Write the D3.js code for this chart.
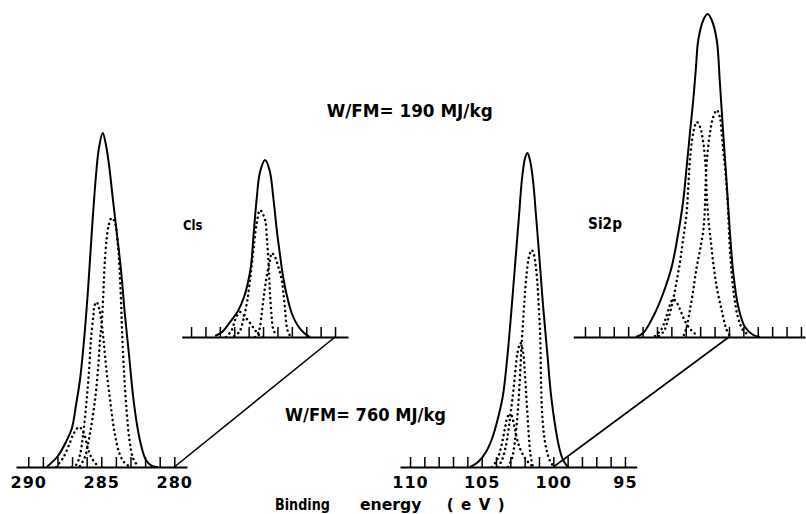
<!DOCTYPE html>
<html>
<head>
<meta charset="utf-8">
<script src="https://cdn.jsdelivr.net/npm/d3@7"></script>
<style>
  body { margin: 0; background: #fff; }
  svg { display: block; }
  text { font-family: "DejaVu Sans", sans-serif; fill: #000; }
</style>
</head>
<body>
<svg id="chart" width="806" height="514"></svg>
<script>
// ---- data: [binding energy (eV), intensity (a.u.)] ----

// C1s, W/FM = 760 MJ/kg (lower)
const c1sLowEnvelope = [[288.74,0],[287.97,11],[287.42,25],[287.01,39],[286.73,62],[286.46,87],[286.18,127],[285.91,177],[285.64,237],[285.36,292],[285.16,319],[284.90,334],[284.68,322],[284.47,302],[284.20,267],[283.92,232],[283.65,197],[283.38,152],[283.10,112],[282.83,72],[282.55,42],[282.28,22],[281.94,7],[281.53,1],[281.12,0]];
const c1sLowPeakA = [[286.46,1],[286.12,10],[285.77,34],[285.43,67],[285.21,100],[285.09,127],[284.97,144],[284.85,177],[284.78,200],[284.64,227],[284.47,243],[284.29,249],[284.10,246],[283.86,222],[283.75,197],[283.65,167],[283.58,137],[283.45,97],[283.27,57],[283.07,27],[282.83,9],[282.49,1]];
const c1sLowPeakB = [[287.01,0],[286.73,2],[286.46,12],[286.23,34],[286.00,67],[285.82,100],[285.71,127],[285.55,150],[285.47,161],[285.32,165],[285.16,159],[285.02,149],[284.88,132],[284.75,112],[284.61,92],[284.44,72],[284.27,52],[284.06,32],[283.79,15],[283.45,5],[283.03,0]];
const c1sLowPeakC = [[288.10,0],[287.62,9],[287.21,22],[286.87,34],[286.51,40],[286.18,33],[285.89,17],[285.57,7],[285.23,1]];

// C1s, W/FM = 190 MJ/kg (upper)
const c1sHighEnvelope = [[288.33,1],[287.85,5],[287.29,15],[286.74,26],[286.32,40],[286.04,55],[285.83,72],[285.66,102],[285.45,137],[285.21,165],[284.86,177],[284.55,167],[284.27,137],[284.03,105],[283.82,82],[283.65,64],[283.37,43],[282.99,23],[282.57,11],[282.15,4],[281.74,0]];
const c1sHighPeakA = [[287.01,1],[286.65,5],[286.37,17],[286.09,37],[285.85,64],[285.67,87],[285.44,114],[285.21,127],[284.86,117],[284.74,100],[284.65,82],[284.58,62],[284.51,42],[284.41,22],[284.31,9],[284.10,1]];
const c1sHighPeakB = [[285.56,0],[285.33,4],[285.21,10],[285.09,24],[284.98,37],[284.86,50],[284.70,64],[284.51,77],[284.40,84],[284.17,80],[283.94,70],[283.70,57],[283.59,44],[283.47,27],[283.35,10],[283.24,4],[283.06,0]];
const c1sHighPeakC = [[287.57,0],[287.17,7],[286.94,17],[286.60,25],[286.25,20],[285.90,14],[285.56,7],[285.28,2],[285.00,0]];

// Si2p, W/FM = 760 MJ/kg (lower)
const siLowEnvelope = [[105.81,0],[105.25,5],[104.70,15],[104.21,31],[103.79,53],[103.51,72],[103.23,107],[102.95,152],[102.67,202],[102.39,252],[102.18,289],[101.97,309],[101.81,314],[101.63,307],[101.42,287],[101.21,252],[100.96,207],[100.72,162],[100.44,117],[100.16,72],[99.88,42],[99.60,20],[99.32,7],[98.97,0]];
const siLowPeakA = [[103.16,0],[102.88,9],[102.67,27],[102.50,52],[102.36,82],[102.25,112],[102.15,137],[102.01,167],[101.87,192],[101.70,210],[101.51,217],[101.35,212],[101.21,199],[101.10,182],[101.00,157],[100.93,137],[100.89,117],[100.86,87],[100.79,57],[100.65,32],[100.44,15],[100.23,6],[99.95,0]];
const siLowPeakB = [[103.86,0],[103.58,7],[103.34,19],[103.13,37],[102.95,57],[102.78,77],[102.64,97],[102.50,114],[102.29,124],[102.11,115],[102.01,99],[101.91,77],[101.80,52],[101.70,29],[101.59,12],[101.42,0]];
const siLowPeakC = [[104.28,0],[103.93,7],[103.61,22],[103.37,39],[103.16,51],[102.95,52],[102.74,42],[102.46,24],[102.11,12],[101.77,5],[101.42,0]];

// Si2p, W/FM = 190 MJ/kg (upper)
const siHighEnvelope = [[106.46,0],[105.95,4],[105.14,24],[104.56,44],[103.98,70],[103.52,104],[103.17,137],[102.94,170],[102.71,204],[102.48,237],[102.29,270],[102.13,297],[101.78,317],[101.48,323],[101.20,317],[100.85,297],[100.63,254],[100.40,204],[100.16,154],[99.93,104],[99.70,64],[99.35,30],[98.89,10],[98.31,2],[97.85,0]];
const siHighPeakA = [[104.86,1],[104.51,6],[104.24,17],[103.96,32],[103.68,52],[103.40,75],[103.19,97],[102.94,124],[102.83,150],[102.71,177],[102.48,204],[102.24,215],[102.01,210],[101.78,194],[101.62,170],[101.55,144],[101.44,120],[101.27,97],[101.09,74],[100.85,50],[100.51,27],[100.16,7],[99.93,1]];
const siHighPeakB = [[103.13,2],[102.94,10],[102.71,27],[102.48,47],[102.24,70],[102.01,87],[101.78,107],[101.67,130],[101.62,154],[101.53,177],[101.32,204],[101.09,220],[100.85,227],[100.63,220],[100.51,204],[100.40,187],[100.28,170],[100.10,137],[99.97,97],[99.83,67],[99.65,42],[99.38,20],[99.03,7],[98.54,1]];
const siHighPeakC = [[105.14,1],[104.72,7],[104.38,19],[104.10,32],[103.87,38],[103.61,34],[103.33,25],[102.99,14],[102.57,6],[102.15,1]];

// axes
const c1sTicks = [290,289,288,287,286,285,284,283,282,281,280];
const c1sTickLabels = [290,285,280];
const siTicks = [110,109,108,107,106,105,104,103,102,101,100,99,98,97,96,95];
const siTickLabels = [110,105,100,95];
const c1sLink = 280;   // energy joining lower and upper C1s axes
const siLink = 100;    // energy joining lower and upper Si2p axes

// ---- layout ----
const svg = d3.select("#chart");
const lowBase = 467, highBase = 337;

const yLow = d3.scaleLinear().domain([0, 340]).range([lowBase, lowBase - 340]);
const yHigh = d3.scaleLinear().domain([0, 340]).range([highBase, highBase - 340]);

const xC1sLow = d3.scaleLinear().domain([290.84, 279.13]).range([16, 187]);
const xC1sHigh = d3.scaleLinear().domain([290.65, 279.10]).range([181.7, 348]);
const xSiLow = d3.scaleLinear().domain([110.70, 94.18]).range([400, 636.7]);
const xSiHigh = d3.scaleLinear().domain([110.81, 94.72]).range([573.3, 805]);

const panels = [
  { x: xC1sLow,  y: yLow,  base: lowBase,  ticks: c1sTicks, labels: c1sTickLabels,
    env: c1sLowEnvelope, comps: [c1sLowPeakA, c1sLowPeakB, c1sLowPeakC] },
  { x: xC1sHigh, y: yHigh, base: highBase, ticks: c1sTicks, labels: null,
    env: c1sHighEnvelope, comps: [c1sHighPeakA, c1sHighPeakB, c1sHighPeakC] },
  { x: xSiLow,   y: yLow,  base: lowBase,  ticks: siTicks, labels: siTickLabels,
    env: siLowEnvelope, comps: [siLowPeakA, siLowPeakB, siLowPeakC] },
  { x: xSiHigh,  y: yHigh, base: highBase, ticks: siTicks, labels: null,
    env: siHighEnvelope, comps: [siHighPeakA, siHighPeakB, siHighPeakC] }
];

// connectors between the two axes of each spectrum
const links = [
  [xC1sLow(c1sLink), xC1sHigh(c1sLink)],
  [xSiLow(siLink), xSiHigh(siLink)]
];
svg.selectAll(".link")
  .data(links)
  .enter()
  .append("line")
  .attr("class", "link")
  .attr("x1", d => d[0]).attr("y1", lowBase)
  .attr("x2", d => d[1]).attr("y2", highBase)
  .attr("stroke", "#000")
  .attr("stroke-width", 1.6);

panels.forEach(p => {
  const g = svg.append("g");

  const line = d3.line()
    .x(d => p.x(d[0]))
    .y(d => p.y(d[1]))
    .curve(d3.curveCatmullRom.alpha(0.5));

  // dotted component peaks
  g.selectAll(".comp")
    .data(p.comps)
    .enter()
    .append("path")
    .attr("class", "comp")
    .attr("d", line)
    .attr("fill", "none")
    .attr("stroke", "#000")
    .attr("stroke-width", 2.5)
    .attr("stroke-linecap", "round")
    .attr("stroke-dasharray", "0.1 4.8");

  // solid envelope
  g.append("path")
    .attr("d", line(p.env))
    .attr("fill", "none")
    .attr("stroke", "#000")
    .attr("stroke-width", 2)
    .attr("stroke-linejoin", "round");

  // baseline with ticks pointing up
  const ax = g.append("g")
    .attr("transform", `translate(0,${p.base})`)
    .call(d3.axisTop(p.x).tickValues(p.ticks).tickSize(10).tickSizeOuter(0).tickFormat(""));
  ax.select(".domain").attr("stroke-width", 2.2);
  ax.selectAll(".tick line").attr("stroke-width", 1.5);

  if (p.labels) {
    const lab = g.append("g")
      .attr("transform", `translate(0,${p.base})`)
      .call(d3.axisBottom(p.x).tickValues(p.labels).tickSize(0).tickPadding(10).tickFormat(d3.format("d")));
    lab.select(".domain").remove();
    lab.attr("font-family", null).attr("font-size", null);
    lab.selectAll("text")
      .style("font-size", "16px")
      .style("font-weight", "bold")
      .style("letter-spacing", "1px");
  }
});

// ---- texts ----
const labels = [
  { t: "W/FM= 190 MJ/kg", x: 326.7, y: 116.5, size: 17, len: 166 },
  { t: "W/FM= 760 MJ/kg", x: 285, y: 421, size: 17, len: 161 },
  { t: "Cls", x: 183, y: 230, size: 14, len: 19.5 },
  { t: "Si2p", x: 588, y: 229, size: 15, len: 34 },
  { t: "Binding", x: 275, y: 510, size: 15, len: 55 },
  { t: "energy", x: 360, y: 510, size: 15, len: 61.5 },
  { t: "(eV)", x: 446.7, y: 510, size: 15, len: 58 }
];
svg.selectAll(".lbl")
  .data(labels)
  .enter()
  .append("text")
  .attr("class", "lbl")
  .attr("x", d => d.x)
  .attr("y", d => d.y)
  .attr("font-size", d => d.size)
  .attr("font-weight", "bold")
  .attr("textLength", d => d.len)
  .attr("lengthAdjust", d => d.t === "(eV)" ? "spacing" : "spacingAndGlyphs")
  .text(d => d.t);
</script>
</body>
</html>
